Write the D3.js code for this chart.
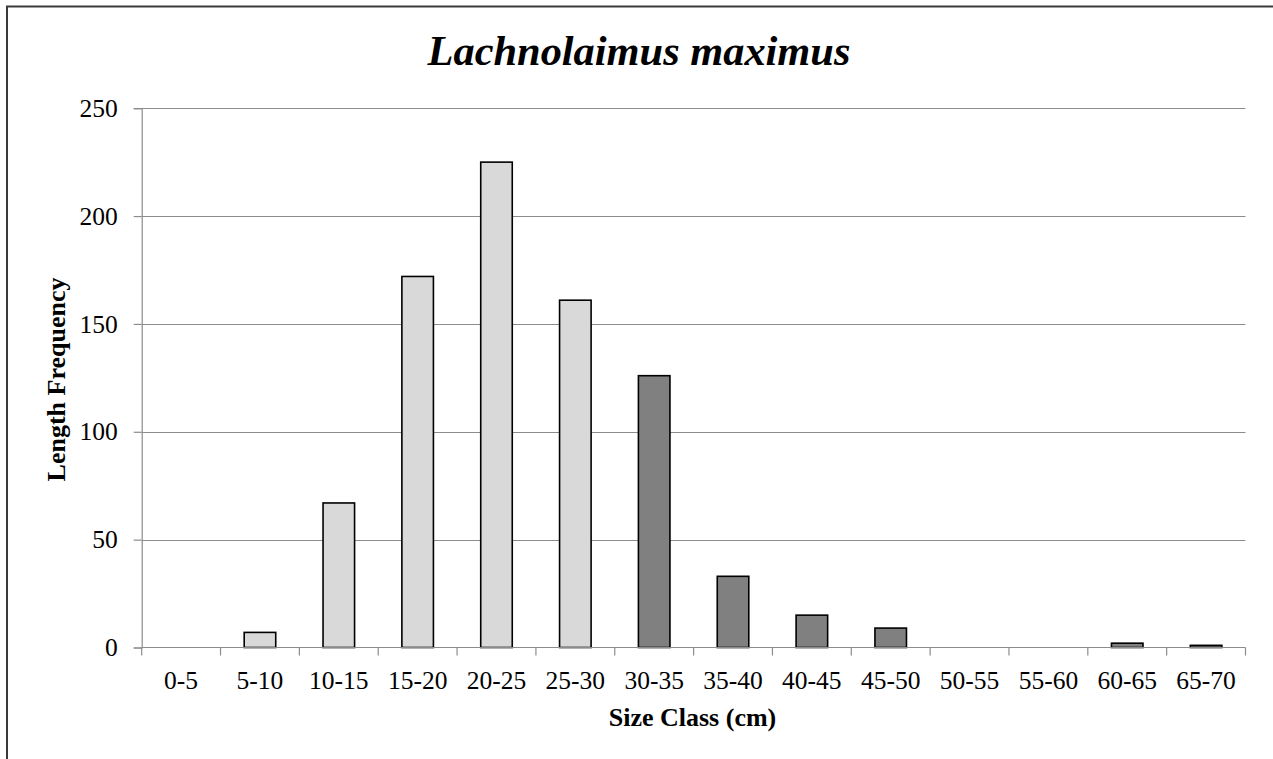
<!DOCTYPE html>
<html>
<head>
<meta charset="utf-8">
<script src="https://cdn.jsdelivr.net/npm/d3@7"></script>
<style>
  html, body { margin: 0; padding: 0; background: #fff; }
  svg { display: block; }
  text { font-family: "Times New Roman", "Liberation Serif", "DejaVu Serif", serif; fill: #000; }
</style>
</head>
<body>
<svg id="chart" width="1273" height="759"></svg>
<script>
const categories = ["0-5","5-10","10-15","15-20","20-25","25-30","30-35","35-40","40-45","45-50","50-55","55-60","60-65","65-70"];
const frequencies = [0, 7, 67, 172, 225, 161, 126, 33, 15, 9, 0, 0, 2, 1];
const groupOf = ["light","light","light","light","light","light","dark","dark","dark","dark","dark","dark","dark","dark"];
const yTicks = [0, 50, 100, 150, 200, 250];
const titleText = "Lachnolaimus maximus";
const xTitle = "Size Class (cm)";
const yTitle = "Length Frequency";

const fills = { light: "#d9d9d9", dark: "#808080" };

const svg = d3.select("#chart");
const W = 1273, H = 759;
const plot = { left: 141.7, right: 1245.5, top: 108.2, bottom: 647.5 };

// outer frame (only top & left visible in the crop)
svg.append("rect")
  .attr("x", 7).attr("y", 6.5)
  .attr("width", W + 20).attr("height", H + 20)
  .attr("fill", "#fff")
  .attr("stroke", "#3a3a3a").attr("stroke-width", 2);

const x = d3.scaleBand().domain(categories).range([plot.left, plot.right]).paddingInner(0).paddingOuter(0);
const y = d3.scaleLinear().domain([0, 250]).range([plot.bottom, plot.top]);

// gridlines
svg.append("g").selectAll("line").data(yTicks.filter(d => d > 0)).join("line")
  .attr("x1", plot.left).attr("x2", plot.right)
  .attr("y1", d => Math.round(y(d)) + 0.5).attr("y2", d => Math.round(y(d)) + 0.5)
  .attr("stroke", "#8c8c8c").attr("stroke-width", 1.2);

// y axis
const yAxis = d3.axisLeft(y).tickValues(yTicks).tickSize(8).tickPadding(16).tickFormat(d3.format("d"));
const gy = svg.append("g").attr("transform", `translate(${plot.left},0)`).call(yAxis);
gy.select(".domain").attr("stroke", "#8c8c8c").attr("stroke-width", 1.2);
gy.selectAll(".tick line").attr("stroke", "#8c8c8c").attr("stroke-width", 1.2);
gy.selectAll(".tick text").attr("font-size", "25.5px").attr("font-family", "'Times New Roman','Liberation Serif',serif").attr("fill", "#000");

// bars
const bw = x.bandwidth() * 0.4;
svg.append("g").selectAll("rect").data(categories.map((c, i) => ({ c, v: frequencies[i], g: groupOf[i] })).filter(d => d.v > 0))
  .join("rect")
  .attr("x", d => x(d.c) + (x.bandwidth() - bw) / 2)
  .attr("y", d => y(d.v))
  .attr("width", bw)
  .attr("height", d => y(0) - y(d.v))
  .attr("fill", d => fills[d.g])
  .attr("stroke", "#000").attr("stroke-width", 1.6);

// x axis (ticks at category boundaries)
const gx = svg.append("g").attr("transform", `translate(0,${plot.bottom})`);
gx.append("line").attr("x1", plot.left).attr("x2", plot.right).attr("y1", 0).attr("y2", 0)
  .attr("stroke", "#8c8c8c").attr("stroke-width", 1.2);
const bounds = categories.map(c => x(c)).concat([plot.right]);
gx.selectAll("line.tk").data(bounds).join("line").attr("class", "tk")
  .attr("x1", d => d).attr("x2", d => d).attr("y1", 0).attr("y2", 8)
  .attr("stroke", "#8c8c8c").attr("stroke-width", 1.2);
gx.selectAll("text").data(categories).join("text")
  .attr("x", d => x(d) + x.bandwidth() / 2)
  .attr("y", 41)
  .attr("text-anchor", "middle")
  .attr("font-size", "25.5px")
  .text(d => d);

// titles
svg.append("text").attr("x", 639).attr("y", 65).attr("text-anchor", "middle")
  .attr("font-size", "42.4px").attr("font-weight", "bold").attr("font-style", "italic")
  .text(titleText);

svg.append("text").attr("x", 692.5).attr("y", 726).attr("text-anchor", "middle")
  .attr("font-size", "26px").attr("font-weight", "bold")
  .text(xTitle);

svg.append("text").attr("transform", "translate(65,379.5) rotate(-90)").attr("text-anchor", "middle")
  .attr("font-size", "26px").attr("font-weight", "bold")
  .text(yTitle);
</script>
</body>
</html>
